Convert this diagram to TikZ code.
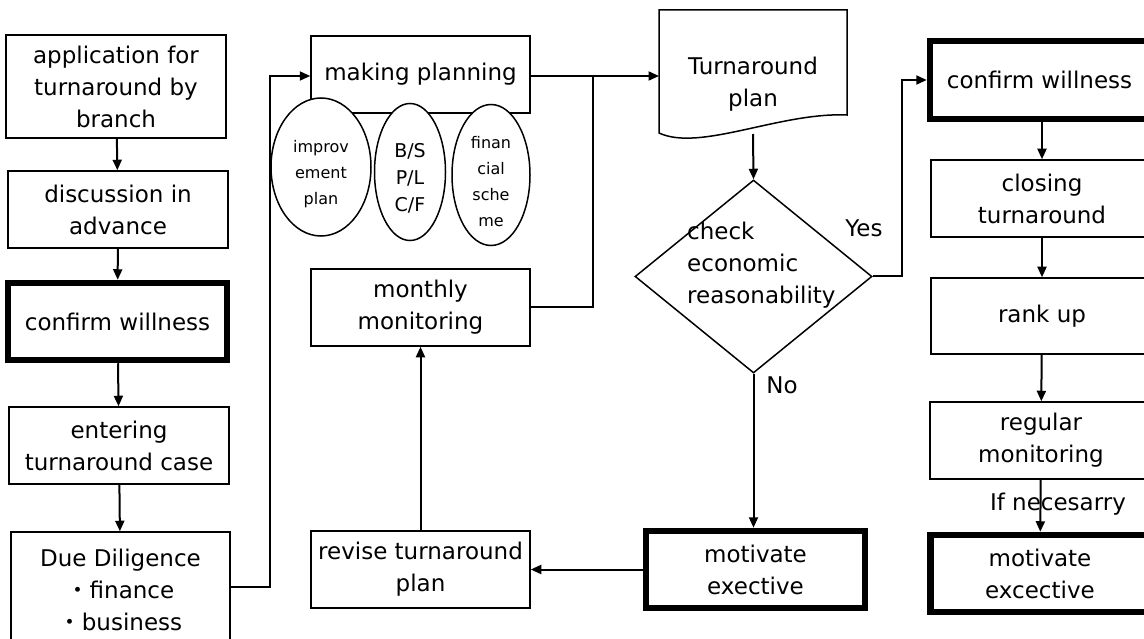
\documentclass[tikz,border=0pt]{standalone}
\usepackage{fontspec}
\setmainfont{DejaVu Sans}
\newfontfamily\cjk{Noto Sans CJK JP}
\usetikzlibrary{shapes.geometric,arrows.meta}
\newcommand{\elltext}[2]{\raisebox{#1}[0pt][0pt]{\begin{tabular}{@{}c@{}}#2\end{tabular}}}
\begin{document}
\begin{tikzpicture}[x=1pt,y=-1pt,
  box/.style={draw, line width=1.5pt, minimum width=220pt, minimum height=77pt, inner sep=0pt, align=center, font=\fontsize{23}{32}\selectfont, fill=white},
  thickbox/.style={box, line width=6.5pt, minimum width=219pt},
  ell/.style={draw, ellipse, line width=1.5pt, fill=white, inner sep=0pt, font=\fontsize{16}{26}\selectfont},
  arr/.style={line width=2pt, -{Triangle[length=10.5pt,width=9pt]}},
  ln/.style={line width=2pt},
  lbl/.style={font=\fontsize{23}{32}\selectfont, inner sep=0pt}]
\fill[white] (0,0) rectangle (1144,639);
\useasboundingbox (0,0) rectangle (1144,639);
% left column
\node[box, minimum height=103pt] (app) at (116,86.5) {application for\\turnaround by\\branch};
\node[box] (disc) at (118,209.5) {discussion in\\advance};
\node[thickbox] (cw1) at (117.5,321.5) {confirm willness};
\node[box] (ent) at (119,445.5) {entering\\turnaround case};
\node[box, minimum width=219pt, minimum height=116pt] (dd) at (120.5,590) {Due Diligence\\{\cjk ・}finance\\{\cjk ・}business};
% middle
\node[box, minimum width=219pt] (mp) at (420.5,74.5) {making planning};
\node[ell, minimum width=100pt, minimum height=138pt] (e1) at (321,167) {\elltext{-11pt}{improv\\ement\\plan}};
\node[ell, minimum width=71pt, minimum height=137pt, font=\fontsize{19}{27}\selectfont] (e2) at (410,172) {\elltext{-11pt}{B/S\\P/L\\C/F}};
\node[ell, minimum width=78pt, minimum height=141pt] (e3) at (491,175) {\elltext{-12pt}{finan\\cial\\sche\\me}};
\node[box, minimum width=219pt] (mm) at (420.5,307.5) {monthly\\monitoring};
\node[box, minimum width=219pt] (rev) at (420.5,569.5) {revise turnaround\\plan};
% document
\draw[line width=1.5pt, fill=white] (659,10) -- (847,10) -- (847,115) .. controls (780,112) and (700,152) .. (659,133) -- cycle;
\node[lbl, align=center] (doc) at (753,84) {Turnaround\\plan};
\coordinate (docw) at (659,76);
\coordinate (docb) at (753,134);
% decision
\node[draw, diamond, line width=1.5pt, minimum width=237pt, minimum height=193pt, inner sep=0pt] (dia) at (753.5,276.5) {};
\node[lbl, align=left, anchor=west] (dtext) at (687,265) {check\\economic\\reasonability};
\node[thickbox] (mot1) at (755.5,569.5) {motivate\\exective};
% right column
\node[thickbox, minimum height=78pt] (cw2) at (1039.5,80) {confirm willness};
\node[box, minimum width=222pt] (close) at (1042,198.5) {closing\\turnaround};
\node[box, minimum width=222pt, minimum height=76pt] (rank) at (1042,316) {rank up};
\node[box, minimum width=222pt] (reg) at (1041,440.5) {regular\\monitoring};
\node[thickbox] (mot2) at (1040,573.5) {motivate\\excective};
% labels
\node[lbl] (yes) at (864,228) {Yes};
\node[lbl] (no) at (782,385) {No};
% connectors
\draw[arr] (app) -- (disc);
\draw[arr] (disc) -- (cw1);
\draw[arr] (cw1) -- (ent);
\draw[arr] (ent) -- (dd);
\coordinate (c1) at (270,587);
\coordinate (c2) at (270,76);
\draw[arr] (dd.east |- c1) -- (c1) -- (c2) -- (mp.west |- c2);
\coordinate (j) at (593,76);
\draw[arr] (mp.east |- j) -- (docw);
\draw[ln] (mm.east) -| (j);
\draw[arr] (rev) -- (mm);
\draw[arr] (mot1.west) -- (rev.east);
\draw[arr] (docb) -- (dia.north);
\draw[arr] (dia.south) -- (mot1.north -| dia.south);
\coordinate (c3) at (902,276.5);
\coordinate (c4) at (902,80);
\draw[arr] (dia.east) -- (c3) -- (c4) -- (cw2.west);
\draw[arr] (cw2.south -| close.north) -- (close);
\draw[arr] (close) -- (rank);
\draw[arr] (rank) -- (reg);
\draw[arr] (reg) -- (mot2);
\node[lbl] (ifn) at (1058,504) {If necesarry};
\end{tikzpicture}
\end{document}
